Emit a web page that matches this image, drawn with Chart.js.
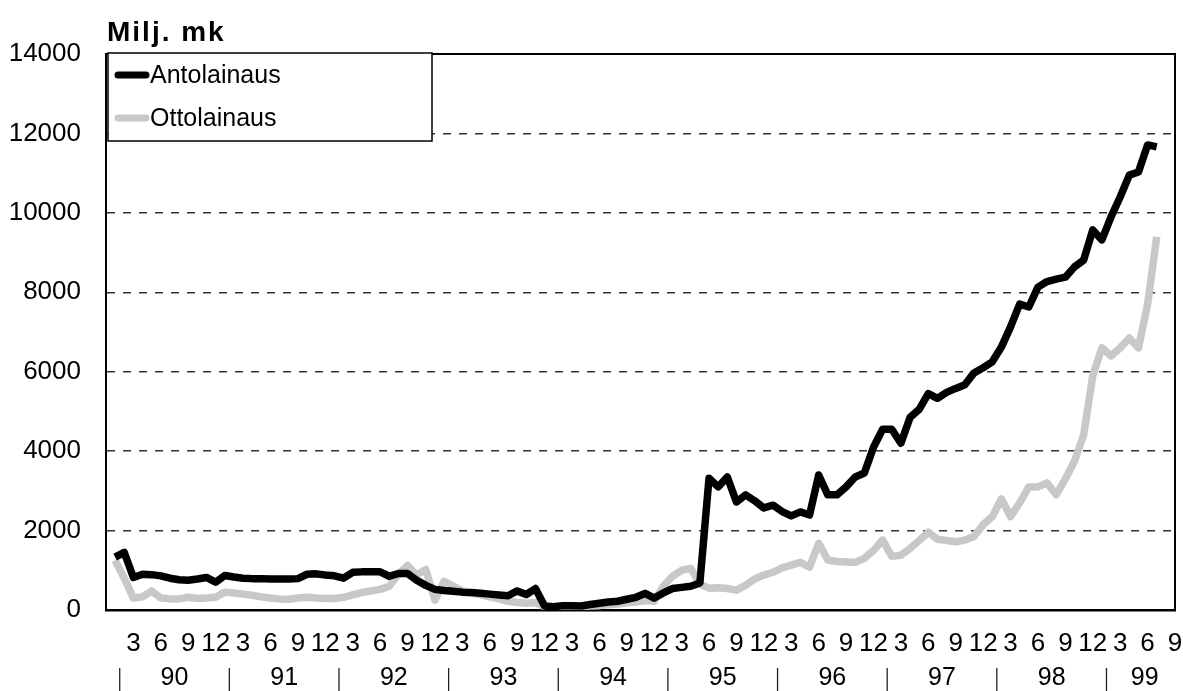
<!DOCTYPE html>
<html>
<head>
<meta charset="utf-8">
<script src="https://cdn.jsdelivr.net/npm/chart.js@4"></script>
<style>
  html, body { margin: 0; padding: 0; background: #fff; }
  canvas { display: block; }
</style>
</head>
<body>
<canvas id="grafico" width="1183" height="691"></canvas>
<script>
// vuodet ja kuukausiakselin merkinnät
const years = ['90', '91', '92', '93', '94', '95', '96', '97', '98', '99'];
const tickMonths = [3, 6, 9, 12];
const lastMonth = 9;
const yTicks = [0, 2000, 4000, 6000, 8000, 10000, 12000, 14000];

// Milj. mk, kuukausittain 1/90 - 7/99
const antolainaus = [
  1330, 1450, 820, 900, 890, 860, 800, 760, 750, 780, 820, 700,
  870, 830, 800, 790, 790, 780, 780, 780, 790, 900, 910, 880,
  860, 800, 950, 960, 960, 960, 850, 920, 920, 750, 620, 520,
  490, 470, 450, 440, 420, 400, 380, 360, 480, 390, 540, 100,
  80, 110, 110, 100, 140, 170, 200, 220, 270, 320, 420, 300,
  430, 540, 570, 600, 680, 3320, 3100, 3350, 2720, 2900, 2750, 2570,
  2640, 2480, 2370, 2470, 2390, 3400, 2900, 2900, 3100, 3350, 3450, 4100,
  4550, 4550, 4200, 4850, 5050, 5450, 5330, 5480, 5580, 5670, 5970, 6100,
  6250, 6620, 7130, 7700, 7630, 8130, 8270, 8330, 8380, 8640, 8810, 9570,
  9320, 9900, 10400, 10950, 11030, 11710, 11660
];

const ottolainaus = [
  1250, 800, 300, 330, 480, 300, 280, 280, 320, 290, 300, 320,
  450, 430, 400, 370, 330, 300, 280, 270, 300, 320, 300, 290,
  290, 320, 380, 440, 480, 520, 600, 900, 1120, 880, 1020, 250,
  720, 600, 480, 420, 380, 330, 280, 220, 190, 170, 190, 80,
  60, 70, 80, 80, 100, 110, 130, 150, 180, 200, 240, 220,
  600, 850, 1000, 1050, 650, 550, 560, 540, 500, 620, 780, 880,
  950, 1060, 1130, 1200, 1080, 1680, 1260, 1220, 1210, 1200, 1300, 1500,
  1760, 1350, 1380, 1550, 1750, 1960, 1780, 1750, 1720, 1760, 1850, 2150,
  2350, 2800, 2350, 2700, 3100, 3100, 3200, 2900, 3300, 3750, 4400, 5900,
  6600, 6400, 6600, 6850, 6600, 7700, 9400
];

const FONT = "'Liberation Sans', Arial, sans-serif";

// akseli alkaa joulukuusta 89 (tyhjä paikka) ja loppuu syyskuuhun 99
const categories = ['12/89'];
years.forEach(y => {
  for (let m = 1; m <= 12; m++) {
    if (y === years[years.length - 1] && m > lastMonth) break;
    categories.push(m + '/' + y);
  }
});

const kehys = {
  id: 'kehys',
  afterDraw(chart) {
    const { ctx, chartArea: a, scales: { x } } = chart;
    ctx.save();

    // kehyksen yläreuna ja oikea reuna
    ctx.strokeStyle = '#000';
    ctx.lineWidth = 2;
    ctx.beginPath();
    ctx.moveTo(a.left, a.top);
    ctx.lineTo(a.right, a.top);
    ctx.lineTo(a.right, a.bottom);
    ctx.stroke();

    // yksikkö
    ctx.fillStyle = '#000';
    ctx.font = 'bold 28px ' + FONT;
    ctx.letterSpacing = '2px';
    ctx.textAlign = 'left';
    ctx.textBaseline = 'alphabetic';
    ctx.fillText('Milj. mk', a.left + 1, 41);
    ctx.letterSpacing = '0px';

    // selite
    ctx.fillStyle = '#fff';
    ctx.fillRect(a.left + 2, a.top - 1, 324, 88);
    ctx.strokeStyle = '#000';
    ctx.lineWidth = 1.5;
    ctx.strokeRect(a.left + 2, a.top - 1, 324, 88);
    ctx.font = '25px ' + FONT;
    ctx.textBaseline = 'middle';
    chart.data.datasets.forEach((ds, i) => {
      const yy = a.top + 21 + i * 43;
      ctx.strokeStyle = ds.borderColor;
      ctx.lineWidth = 7;
      ctx.lineCap = 'round';
      ctx.beginPath();
      ctx.moveTo(a.left + 12, yy);
      ctx.lineTo(a.left + 40, yy);
      ctx.stroke();
      ctx.fillStyle = '#000';
      ctx.fillText(ds.label, a.left + 44, yy + 1);
    });

    // vuodet ja erottimet
    ctx.lineCap = 'butt';
    const step = x.getPixelForValue(1) - x.getPixelForValue(0);
    const seps = years.map(y => x.getPixelForValue(categories.indexOf('1/' + y)) + step / 2);
    ctx.strokeStyle = '#222';
    ctx.lineWidth = 1.3;
    ctx.font = '25px ' + FONT;
    ctx.textAlign = 'center';
    ctx.fillStyle = '#000';
    years.forEach((y, i) => {
      const s = seps[i];
      const e = i < years.length - 1 ? seps[i + 1] : chart.width;
      ctx.beginPath();
      ctx.moveTo(s, 668);
      ctx.lineTo(s, chart.height);
      ctx.stroke();
      ctx.fillText(y, (s + e) / 2, 678);
    });
    ctx.restore();
  }
};

new Chart(document.getElementById('grafico'), {
  type: 'line',
  data: {
    labels: categories,
    datasets: [{
      label: 'Antolainaus',
      data: [null].concat(antolainaus),
      borderColor: '#000000',
      borderWidth: 7.5,
      borderJoinStyle: 'round',
      pointRadius: 0,
      tension: 0
    }, {
      label: 'Ottolainaus',
      data: [null].concat(ottolainaus),
      borderColor: '#c8c8c8',
      borderWidth: 7.5,
      borderJoinStyle: 'round',
      pointRadius: 0,
      tension: 0
    }]
  },
  options: {
    responsive: false,
    animation: false,
    devicePixelRatio: 1,
    layout: { padding: { top: 54, right: 8, left: 0, bottom: 0 } },
    plugins: {
      legend: { display: false },
      tooltip: { enabled: false }
    },
    scales: {
      x: {
        type: 'category',
        offset: false,
        grid: { display: false, drawTicks: false },
        border: { display: true, color: '#000', width: 2.5 },
        ticks: {
          autoSkip: false,
          maxRotation: 0,
          minRotation: 0,
          padding: 18,
          color: '#000',
          font: { family: FONT, size: 26 },
          callback: function (value, index) {
            if (index === 0) return '';
            const m = Number(this.getLabelForValue(value).split('/')[0]);
            return tickMonths.includes(m) ? String(m) : '';
          }
        },
        afterFit: scale => {
          scale.height = 81;
          scale.paddingLeft = 0;
          scale.paddingRight = 0;
        }
      },
      y: {
        min: yTicks[0],
        max: yTicks[yTicks.length - 1],
        afterBuildTicks: scale => { scale.ticks = yTicks.map(v => ({ value: v })); },
        grid: {
          drawTicks: false,
          lineWidth: 1.5,
          color: c => (c.tick && (c.tick.value === 0 || c.tick.value === 14000)) ? 'rgba(0,0,0,0)' : '#333'
        },
        border: { display: true, color: '#000', width: 2, dash: [8, 8] },
        ticks: {
          padding: 25,
          color: '#000',
          font: { family: FONT, size: 26 },
          callback: value => String(value)
        },
        afterFit: scale => { scale.width = 106; }
      }
    }
  },
  plugins: [kehys]
});
</script>
</body>
</html>
